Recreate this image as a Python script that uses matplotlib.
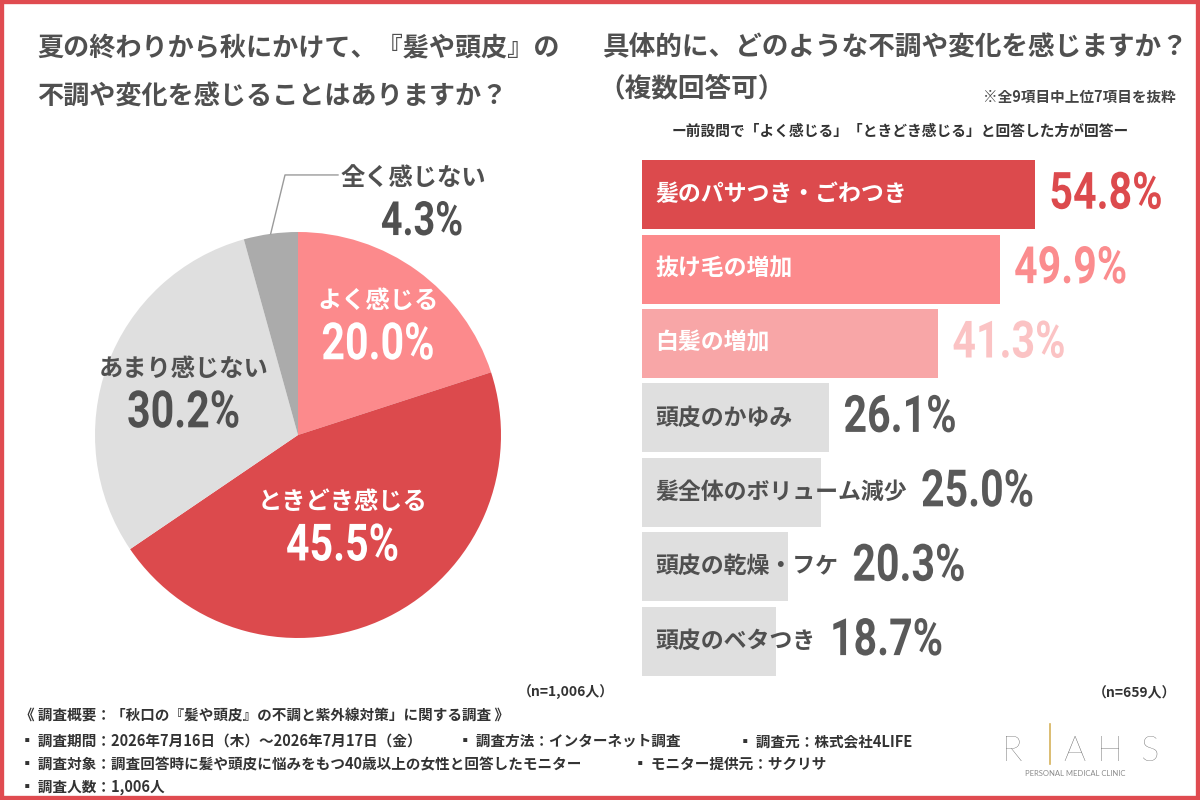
import matplotlib
matplotlib.use("Agg")
import matplotlib.pyplot as plt
from matplotlib.patches import Rectangle
from matplotlib.patheffects import AbstractPathEffect
from matplotlib.transforms import Affine2D
import numpy as np

plt.rcParams["font.family"] = ["Noto Sans CJK JP", "DejaVu Sans"]

# ---- data ----
pie_labels = ["よく感じる", "ときどき感じる", "あまり感じない", "全く感じない"]
pie_values = [20.0, 45.5, 30.2, 4.3]

bar_labels = [
    "髪のパサつき・ごわつき",
    "抜け毛の増加",
    "白髪の増加",
    "頭皮のかゆみ",
    "髪全体のボリューム減少",
    "頭皮の乾燥・フケ",
    "頭皮のベタつき",
]
bar_values = [54.8, 49.9, 41.3, 26.1, 25.0, 20.3, 18.7]

title_left = ["夏の終わりから秋にかけて、『髪や頭皮』の", "不調や変化を感じることはありますか？"]
title_right = ["具体的に、どのような不調や変化を感じますか？", "（複数回答可）"]
note_right = "※全9項目中上位7項目を抜粋"
sub_right = "ー前設問で「よく感じる」「ときどき感じる」と回答した方が回答ー"
n_left = "（n=1,006人）"
n_right = "（n=659人）"

# ---- styles ----
RED = "#DC4A4D"
PINK = "#FC8A8C"
PINK2 = "#F8A6A7"
LGRAY = "#DFDFDF"
MGRAY = "#ABABAB"
TXT = "#505050"
NUM_FONT = ["Roboto", "DejaVu Sans"]

pie_colors = [PINK, RED, LGRAY, MGRAY]
pie_txt_colors = ["white", "white", TXT, TXT]
pie_label_r = [0.67, 0.50, 0.60, None]

bar_colors = [RED, PINK, PINK2, LGRAY, LGRAY, LGRAY, LGRAY]
bar_txt_colors = ["white", "white", "white", TXT, TXT, TXT, TXT]
val_colors = [RED, "#FB8C8E", "#FBC3C4", "#595959", "#595959", "#595959", "#595959"]


class Condense(AbstractPathEffect):
    """squeeze the drawn glyphs horizontally (narrow numeric look)"""

    def __init__(self, sx=0.8, anchor="left"):
        super().__init__()
        self.sx = sx
        self.anchor = anchor

    def draw_path(self, renderer, gc, tpath, affine, rgbFace=None):
        ext = tpath.get_extents(affine)
        x0 = ext.x0 if self.anchor == "left" else (ext.x0 + ext.x1) / 2
        aff = affine + Affine2D().translate(-x0, 0).scale(self.sx, 1).translate(x0, 0)
        renderer.draw_path(gc, tpath, aff, rgbFace)


fig = plt.figure(figsize=(12, 8), dpi=100)
fig.patch.set_facecolor("white")

# background axes in pixel coordinates for free text
bg = fig.add_axes([0, 0, 1, 1])
bg.set_xlim(0, 1200)
bg.set_ylim(800, 0)
bg.axis("off")

for i, line in enumerate(title_left):
    bg.text(37, 48 + i * 49, line, fontsize=18.8, fontweight="bold", color=TXT,
            ha="left", va="center")
bg.text(603, 48, title_right[0], fontsize=19.2, fontweight="bold", color=TXT,
        ha="left", va="center")
bg.text(598, 89, title_right[1], fontsize=19.2, fontweight="bold", color=TXT,
        ha="left", va="center")
bg.text(1176, 97, note_right, fontsize=10.5, fontweight="bold", color="#444444",
        ha="right", va="center")
bg.text(900, 131, sub_right, fontsize=10.6, fontweight="bold", color="#333333",
        ha="center", va="center")
bg.text(566, 693, n_left, fontsize=10, fontweight="bold", color="#333333",
        ha="center", va="center")
bg.text(1135, 693, n_right, fontsize=10, fontweight="bold", color="#333333",
        ha="center", va="center")

# footer
footer = [
    (20, 716, "《 調査概要：「秋口の『髪や頭皮』の不調と紫外線対策」に関する調査 》"),
    (20, 741, "▪ 調査期間：2026年7月16日（木）～2026年7月17日（金）"),
    (458, 741, "▪ 調査方法：インターネット調査"),
    (738, 741, "▪ 調査元：株式会社4LIFE"),
    (20, 764, "▪ 調査対象：調査回答時に髪や頭皮に悩みをもつ40歳以上の女性と回答したモニター"),
    (633, 764, "▪ モニター提供元：サクリサ"),
    (20, 787, "▪ 調査人数：1,006人"),
]
for x, y, s in footer:
    bg.text(x, y, s, fontsize=10.5, fontweight="bold", color="#333333",
            ha="left", va="center")

# logo
for x, ch in zip([1012, 1074, 1110, 1149], ["R", "A", "H", "S"]):
    bg.text(x, 751, ch, fontsize=25, fontweight="light", family=["Lato", "DejaVu Sans"],
            color="#5C5C5C", ha="center", va="center")
bg.plot([1050, 1050], [724, 764], color="#D6B25A", lw=1.2)
bg.text(1075, 773, "PERSONAL MEDICAL CLINIC", fontsize=5.5, color="#8A8A8A",
        family=["Lato", "DejaVu Sans"], ha="center", va="center")

# ---- pie ----
cx, cy, r = 298, 435, 203
pax = fig.add_axes([(cx - r) / 1200, (800 - cy - r) / 800, 2 * r / 1200, 2 * r / 800])
wedges, _ = pax.pie(pie_values, colors=pie_colors, startangle=90, counterclock=False,
                    radius=1, wedgeprops=dict(linewidth=0))
pax.set_xlim(-1, 1)
pax.set_ylim(-1, 1)
pax.set_aspect("equal")
pax.axis("off")

for w, lab, val, tc, lr in zip(wedges, pie_labels, pie_values, pie_txt_colors, pie_label_r):
    mid = np.deg2rad((w.theta1 + w.theta2) / 2)
    if lr is not None:
        x, y = lr * np.cos(mid), lr * np.sin(mid)
        pax.text(x, y + 0.12, lab, fontsize=17.5, fontweight="bold", color=tc,
                 ha="center", va="center")
        pax.text(x, y - 0.10, f"{val:.1f}%", fontsize=37, fontweight="bold",
                 family=NUM_FONT, color=tc, ha="center", va="center",
                 path_effects=[Condense(0.8, "center")])
    else:
        ex, ey = np.cos(mid), np.sin(mid)
        pax.plot([ex, -0.064, 0.197], [ey, 1.281, 1.281], color="#9A9A9A", lw=1,
                 clip_on=False)
        pax.text(0.207, 1.268, lab, fontsize=17.5, fontweight="bold", color=tc,
                 ha="left", va="center")
        pax.text(0.611, 1.049, f"{val:.1f}%", fontsize=34, fontweight="bold",
                 family=NUM_FONT, color=tc, ha="center", va="center",
                 path_effects=[Condense(0.8, "center")])

# ---- bars ----
px_per_pct = 7.17
left_px, right_px = 642, 1180
top_px, pitch = 157.5, 74.4
n = len(bar_values)
bax = fig.add_axes([left_px / 1200, (800 - top_px - n * pitch) / 800,
                    (right_px - left_px) / 1200, n * pitch / 800])
bax.set_xlim(0, (right_px - left_px) / px_per_pct)
bax.set_ylim(n - 0.5, -0.5)
bax.axis("off")
y = np.arange(n)
bax.barh(y, bar_values, height=0.93, color=bar_colors, linewidth=0)

renderer = fig.canvas.get_renderer()
inv = bax.transData.inverted()
for i, (lab, val) in enumerate(zip(bar_labels, bar_values)):
    t = bax.annotate(lab, xy=(0, i), xytext=(13, 0), textcoords="offset pixels",
                     fontsize=16.5, fontweight="bold", color=bar_txt_colors[i],
                     ha="left", va="center")
    lab_end = t.get_window_extent(renderer).x1
    bar_end = bax.transData.transform((val, i))[0]
    xv = inv.transform((max(lab_end, bar_end) + 14, 0))[0]
    bax.text(xv, i, f"{val:.1f}%", fontsize=37, fontweight="bold", family=NUM_FONT,
             color=val_colors[i], ha="left", va="center",
             path_effects=[Condense(0.8, "left")])

# red frame
fig.patches.append(Rectangle((0, 0), 1, 1, transform=fig.transFigure, fill=False,
                             edgecolor="#E04B50", linewidth=6, zorder=10))

fig.savefig("out.png", dpi=100)
